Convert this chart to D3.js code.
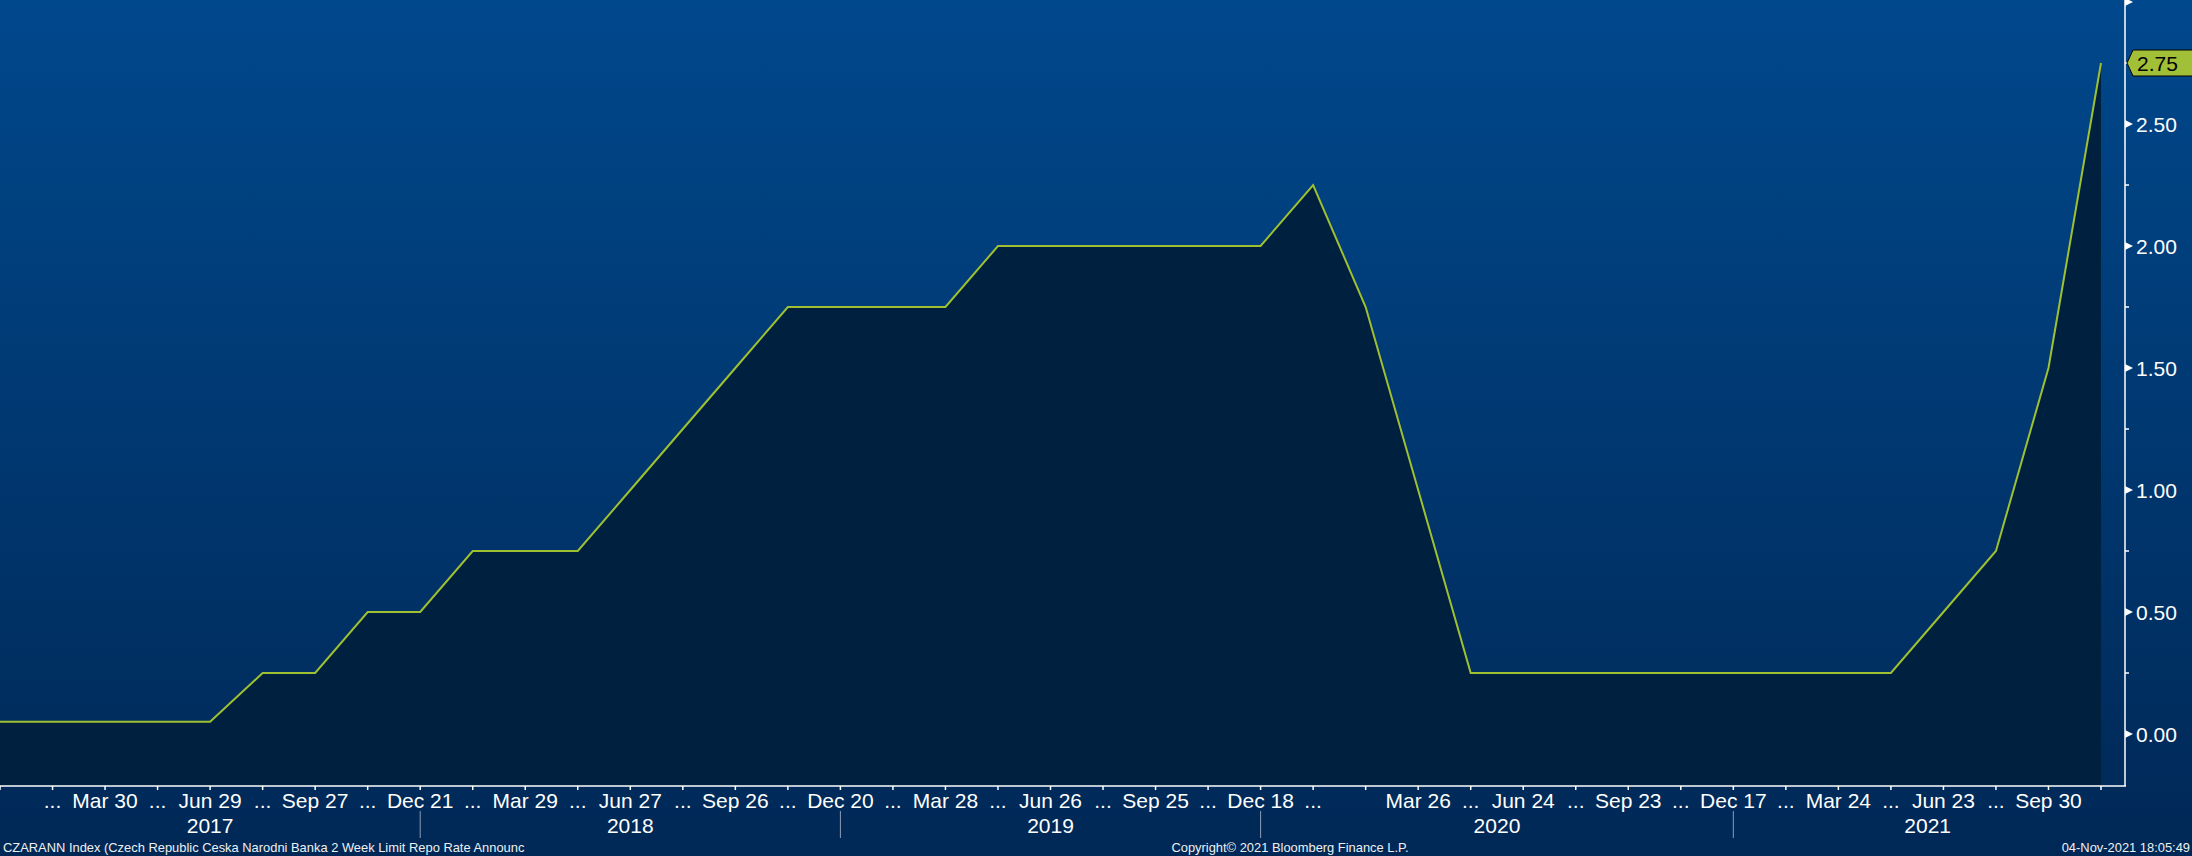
<!DOCTYPE html>
<html>
<head>
<meta charset="utf-8">
<script src="https://cdn.jsdelivr.net/npm/d3@7"></script>
<style>
  html, body { margin: 0; padding: 0; background: #002b5a; }
  svg { display: block; }
  text { font-family: "Liberation Sans", Arial, sans-serif; }
</style>
</head>
<body>
<svg id="chart" width="2192" height="856"></svg>
<script>
// CNB 2-week repo rate, by monetary-policy meeting (Dec 2016 .. Nov 2021)
const meetings = [
  "Dec 15 2016","Feb 2 2017","Mar 30 2017","May 3 2017","Jun 29 2017","Aug 3 2017","Sep 27 2017","Nov 2 2017","Dec 21 2017",
  "Feb 1 2018","Mar 29 2018","May 2 2018","Jun 27 2018","Aug 2 2018","Sep 26 2018","Nov 1 2018","Dec 20 2018",
  "Feb 7 2019","Mar 28 2019","May 2 2019","Jun 26 2019","Aug 1 2019","Sep 25 2019","Nov 7 2019","Dec 18 2019",
  "Feb 6 2020","Mar 16 2020","Mar 26 2020","May 7 2020","Jun 24 2020","Aug 6 2020","Sep 23 2020","Nov 5 2020","Dec 17 2020",
  "Feb 4 2021","Mar 24 2021","May 5 2021","Jun 23 2021","Aug 5 2021","Sep 30 2021","Nov 3 2021"
];
const rates = [
  0.05, 0.05, 0.05, 0.05, 0.05, 0.25, 0.25, 0.50, 0.50,
  0.75, 0.75, 0.75, 1.00, 1.25, 1.50, 1.75, 1.75,
  1.75, 1.75, 2.00, 2.00, 2.00, 2.00, 2.00, 2.00,
  2.25, 1.75, 1.00, 0.25, 0.25, 0.25, 0.25, 0.25, 0.25,
  0.25, 0.25, 0.25, 0.50, 0.75, 1.50, 2.75
];
const tickLabels = [
  "", "...", "Mar 30", "...", "Jun 29", "...", "Sep 27", "...", "Dec 21",
  "...", "Mar 29", "...", "Jun 27", "...", "Sep 26", "...", "Dec 20",
  "...", "Mar 28", "...", "Jun 26", "...", "Sep 25", "...", "Dec 18",
  "...", "", "Mar 26", "...", "Jun 24", "...", "Sep 23", "...", "Dec 17",
  "...", "Mar 24", "...", "Jun 23", "...", "Sep 30", ""
];
const years = ["2017", "2018", "2019", "2020", "2021"];
const yearBreaks = [0, 8, 16, 24, 33]; // index of the last meeting before each year starts
const yTicksMajor = [0, 0.5, 1.0, 1.5, 2.0, 2.5, 3.0];
const yTicksMinor = [0.25, 0.75, 1.25, 1.75, 2.25, 2.75];
const yLabels = ["0.00", "0.50", "1.00", "1.50", "2.00", "2.50"];
const lastValueLabel = "2.75";
const footerLeft = "CZARANN Index (Czech Republic Ceska Narodni Banka 2 Week Limit Repo Rate Announc";
const footerMid = "Copyright\u00A9 2021 Bloomberg Finance L.P.";
const footerRight = "04-Nov-2021 18:05:49";

const W = 2192, H = 856;
const plotRight = 2125, plotBottom = 786;
const svg = d3.select("#chart");

// background gradient
const defs = svg.append("defs");
const grad = defs.append("linearGradient").attr("id", "bg").attr("x1", 0).attr("y1", 0).attr("x2", 0).attr("y2", 1);
grad.append("stop").attr("offset", "0%").attr("stop-color", "#00488c");
grad.append("stop").attr("offset", "100%").attr("stop-color", "#002856");
svg.append("rect").attr("width", W).attr("height", H).attr("fill", "url(#bg)");

const x = d3.scaleLinear().domain([0, rates.length - 1]).range([0, 2101]);
const y = d3.scaleLinear().domain([0, 3]).range([734, 2]);

// area under the line
const area = d3.area().x((d, i) => x(i)).y0(plotBottom).y1(d => y(d));
svg.append("path").datum(rates).attr("d", area).attr("fill", "#00203f");

const line = d3.line().x((d, i) => x(i)).y(d => y(d));
svg.append("path").datum(rates).attr("d", line)
  .attr("fill", "none").attr("stroke", "#9fc031").attr("stroke-width", 2).attr("stroke-linejoin", "miter");

// frame: bottom and right axis lines
svg.append("line").attr("x1", 0).attr("x2", plotRight + 1).attr("y1", plotBottom).attr("y2", plotBottom)
  .attr("stroke", "#fff").attr("stroke-width", 1.5);
svg.append("line").attr("x1", plotRight).attr("x2", plotRight).attr("y1", 0).attr("y2", plotBottom)
  .attr("stroke", "#fff").attr("stroke-width", 1.5);

// x axis ticks and labels
const xg = svg.append("g");
xg.selectAll("line.xt").data(meetings).enter().append("line")
  .attr("x1", (d, i) => x(i)).attr("x2", (d, i) => x(i))
  .attr("y1", plotBottom).attr("y2", plotBottom + 4)
  .attr("stroke", "#fff").attr("stroke-width", 1.5);
xg.selectAll("text.xl").data(tickLabels).enter().append("text")
  .attr("x", (d, i) => x(i)).attr("y", 808)
  .attr("text-anchor", "middle").attr("fill", "#fff").attr("font-size", 21)
  .text(d => d);

// year separators and labels
const yearEdges = yearBreaks.map(i => x(i)).concat([plotRight - 3]);
svg.selectAll("line.sep").data(yearBreaks.slice(1)).enter().append("line")
  .attr("x1", d => x(d)).attr("x2", d => x(d)).attr("y1", 811).attr("y2", 838)
  .attr("stroke", "#8c9cb4").attr("stroke-width", 1);
svg.selectAll("text.yr").data(years).enter().append("text")
  .attr("x", (d, i) => (yearEdges[i] + yearEdges[i + 1]) / 2).attr("y", 833)
  .attr("text-anchor", "middle").attr("fill", "#fff").attr("font-size", 21)
  .text(d => d);

// y axis ticks
const yg = svg.append("g");
yg.selectAll("path.ym").data(yTicksMajor).enter().append("path")
  .attr("d", d => `M${plotRight},${y(d) - 4}L${plotRight + 8},${y(d)}L${plotRight},${y(d) + 4}Z`)
  .attr("fill", "#fff");
yg.selectAll("line.yn").data(yTicksMinor).enter().append("line")
  .attr("x1", plotRight).attr("x2", plotRight + 4)
  .attr("y1", d => y(d)).attr("y2", d => y(d))
  .attr("stroke", "#fff").attr("stroke-width", 1.5);
yg.selectAll("text.yl").data(yLabels).enter().append("text")
  .attr("x", plotRight + 11).attr("y", d => y(+d))
  .attr("dy", "0.36em").attr("fill", "#fff").attr("font-size", 21)
  .text(d => d);

// last value label
const ly = y(rates[rates.length - 1]);
svg.append("path")
  .attr("d", `M${plotRight + 2},${ly}L${plotRight + 8},${ly - 13}L${W + 2},${ly - 13}L${W + 2},${ly + 13}L${plotRight + 8},${ly + 13}Z`)
  .attr("fill", "#a2c037").attr("stroke", "#000").attr("stroke-width", 1);
svg.append("text").attr("x", plotRight + 12).attr("y", ly).attr("dy", "0.36em")
  .attr("fill", "#000").attr("font-size", 21).text(lastValueLabel);

// footer
svg.append("text").attr("x", 3).attr("y", 851.5).attr("fill", "#f0f0f0").attr("font-size", 12.9).text(footerLeft);
svg.append("text").attr("x", 1290).attr("y", 851.5).attr("text-anchor", "middle").attr("fill", "#f0f0f0").attr("font-size", 12.9).text(footerMid);
svg.append("text").attr("x", 2190).attr("y", 851.5).attr("text-anchor", "end").attr("fill", "#f0f0f0").attr("font-size", 12.9).text(footerRight);
</script>
</body>
</html>
